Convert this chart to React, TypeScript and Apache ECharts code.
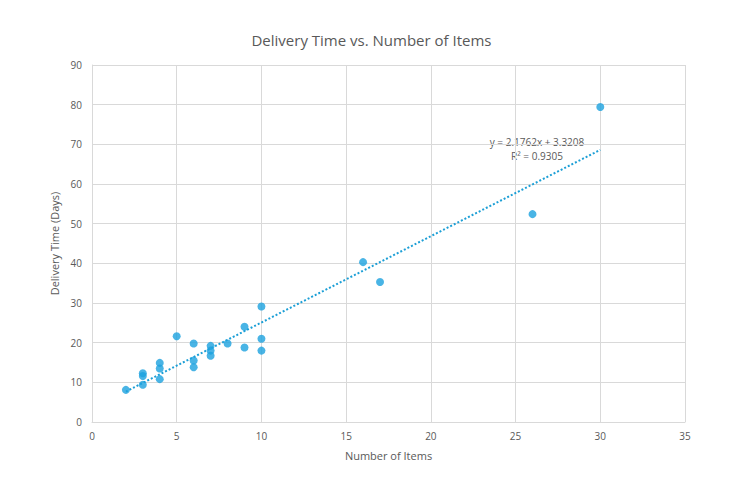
import React, { useEffect, useRef } from "react";
import * as echarts from "echarts";

const itemCounts = [2, 3, 3, 3, 4, 4, 4, 5, 6, 6, 6, 7, 7, 7, 8, 9, 9, 10, 10, 10, 16, 17, 26, 30];
const deliveryDays = [8.1, 12.3, 11.6, 9.4, 14.9, 13.5, 10.8, 21.6, 19.8, 15.5, 13.8, 19.2, 18.0, 16.7, 19.8, 24.0, 18.8, 29.1, 21.0, 18.0, 40.3, 35.3, 52.4, 79.4];
const trendSlope = 2.1762;
const trendIntercept = 3.3208;
const trendR2 = 0.9305;
const trendRange = [2, 30];

const FONT = "'Open Sans', 'Liberation Sans', sans-serif";
const TXT = "#595959";

export default function App() {
  const ref = useRef<HTMLDivElement>(null);
  useEffect(() => {
    const chart = echarts.init(ref.current!, null, { renderer: "svg" });
    const points = itemCounts.map((x, i) => [x, deliveryDays[i]]);
    const trend = trendRange.map((x) => [x, trendSlope * x + trendIntercept]);
    chart.setOption({
      animation: false,
      backgroundColor: "#ffffff",
      textStyle: { fontFamily: FONT },
      title: {
        text: "Delivery Time vs. Number of Items",
        left: "center",
        top: 27,
        textStyle: { fontFamily: FONT, fontSize: 15, fontWeight: "normal", color: TXT },
      },
      grid: { left: 92, right: 58, top: 65, bottom: 68, containLabel: false },
      xAxis: {
        type: "value",
        min: 0,
        max: 35,
        interval: 5,
        name: "Number of Items",
        nameLocation: "middle",
        nameGap: 28,
        nameTextStyle: { color: TXT, fontSize: 11, fontFamily: FONT },
        axisLine: { show: true, lineStyle: { color: "#d9d9d9" } },
        axisTick: { show: false },
        axisLabel: { color: TXT, fontSize: 10, margin: 9, fontFamily: FONT },
        splitLine: { show: true, lineStyle: { color: "#d9d9d9" } },
      },
      yAxis: {
        type: "value",
        min: 0,
        max: 90,
        interval: 10,
        name: "Delivery Time (Days)",
        nameLocation: "middle",
        nameGap: 31,
        nameTextStyle: { color: TXT, fontSize: 11, fontFamily: FONT },
        axisLine: { show: true, lineStyle: { color: "#d9d9d9" } },
        axisTick: { show: false },
        axisLabel: { color: TXT, fontSize: 10, margin: 10, fontFamily: FONT },
        splitLine: { show: true, lineStyle: { color: "#d9d9d9" } },
      },
      series: [
        {
          type: "line",
          data: trend,
          symbol: "none",
          lineStyle: { color: "#1c9fd6", width: 2, type: [2, 2] },
          z: 2,
          silent: true,
        },
        {
          type: "scatter",
          data: points,
          symbolSize: 8,
          itemStyle: { color: "#1ba1de" },
          z: 3,
        },
      ],
      graphic: [
        {
          type: "text",
          x: 537,
          y: 137,
          style: {
            text: `y = ${trendSlope}x + ${trendIntercept}`,
            fill: TXT,
            font: `10px ${FONT}`,
            align: "center",
            verticalAlign: "top",
          },
        },
        {
          type: "text",
          x: 537,
          y: 151,
          style: {
            text: `R² = ${trendR2}`,
            fill: TXT,
            font: `10px ${FONT}`,
            align: "center",
            verticalAlign: "top",
          },
        },
      ],
    });
    return () => chart.dispose();
  }, []);
  return <div ref={ref} style={{ width: 743, height: 490, position: "absolute", left: 0, top: 0 }} />;
}
